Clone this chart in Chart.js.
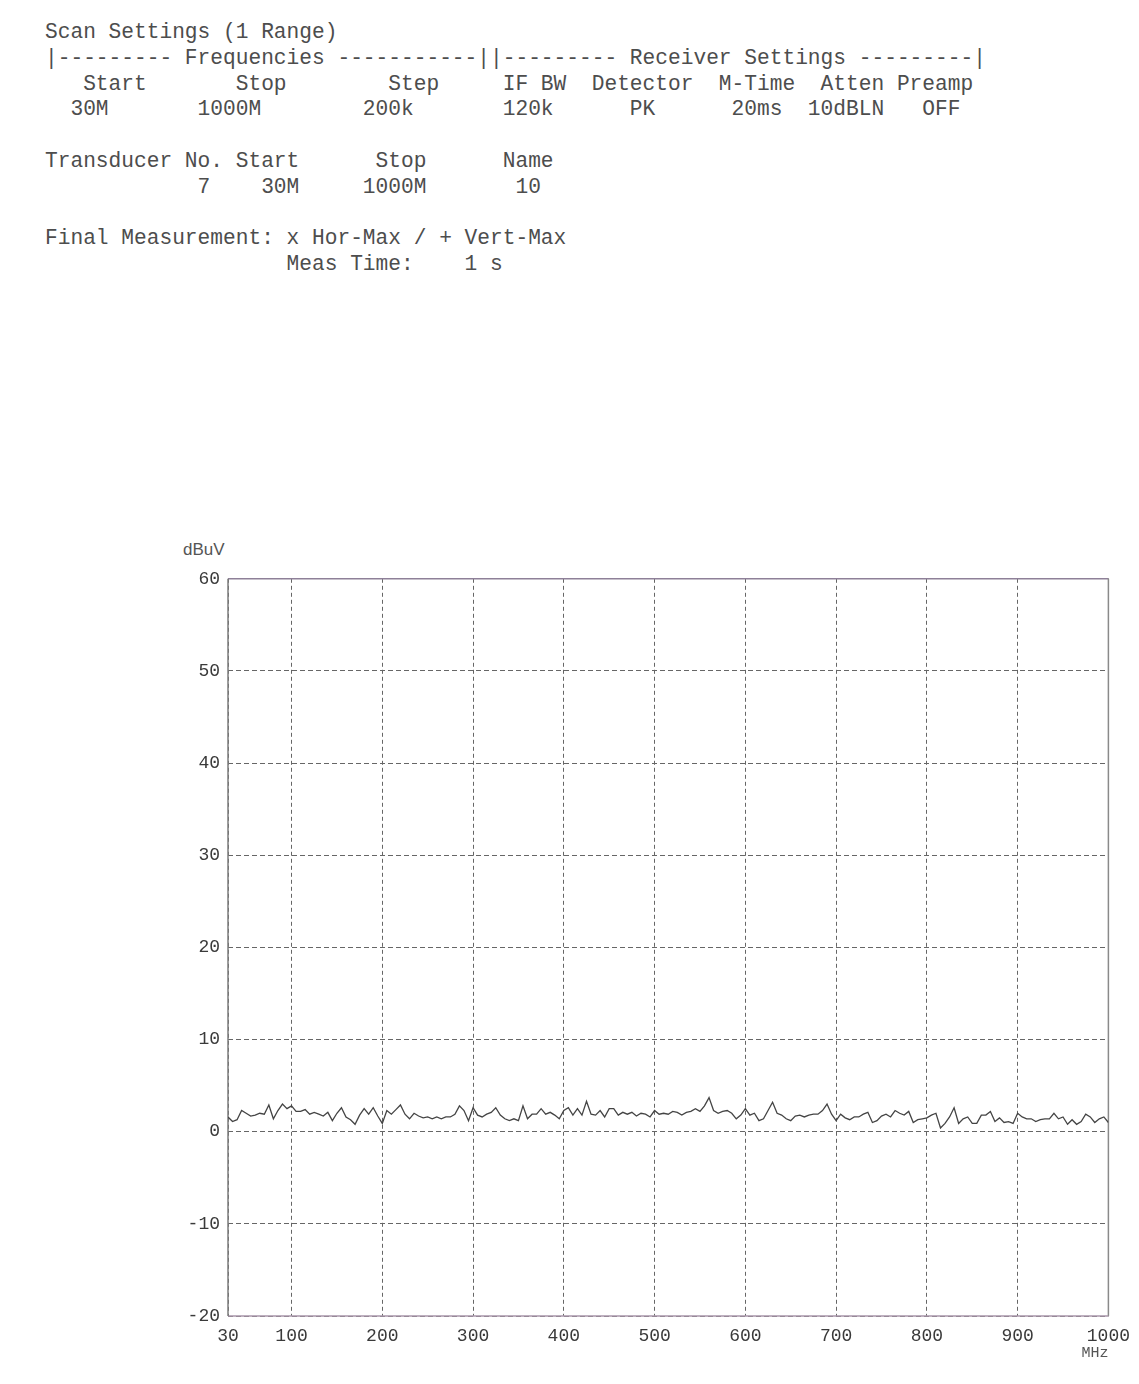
<!DOCTYPE html>
<html>
<head>
<meta charset="utf-8">
<title>Scan 30M - 1000M</title>
<script src="https://cdn.jsdelivr.net/npm/chart.js@4.4.1/dist/chart.umd.min.js"></script>
<style>
  html, body { margin: 0; padding: 0; background: #fff; }
  body { width: 1139px; height: 1384px; position: relative; overflow: hidden; }
  #header {
    position: absolute; left: 45px; top: 20px; margin: 0;
    font-family: "Liberation Mono", monospace; font-size: 21.2px; line-height: 25.75px;
    color: #4d4d4d;
  }
  #unit {
    position: absolute; left: 183px; top: 540px;
    font-family: "Liberation Sans", sans-serif; font-size: 17px; color: #555;
  }
  #chart-box { position: absolute; left: 0; top: 560px; width: 1139px; height: 820px; }
</style>
</head>
<body>
<pre id="header">Scan Settings (1 Range)
|--------- Frequencies -----------||--------- Receiver Settings ---------|
   Start       Stop        Step     IF BW  Detector  M-Time  Atten Preamp
  30M       1000M        200k       120k      PK      20ms  10dBLN   OFF

Transducer No. Start      Stop      Name
            7    30M     1000M       10

Final Measurement: x Hor-Max / + Vert-Max
                   Meas Time:    1 s</pre>
<div id="unit">dBuV</div>
<div id="chart-box"><canvas id="scan-chart"></canvas></div>

<script>
const freqMHz = [
  30, 35, 40, 45, 50, 55, 60, 65, 70, 75,
  80, 85, 90, 95, 100, 105, 110, 115, 120, 125,
  130, 135, 140, 145, 150, 155, 160, 165, 170, 175,
  180, 185, 190, 195, 200, 205, 210, 215, 220, 225,
  230, 235, 240, 245, 250, 255, 260, 265, 270, 275,
  280, 285, 290, 295, 300, 305, 310, 315, 320, 325,
  330, 335, 340, 345, 350, 355, 360, 365, 370, 375,
  380, 385, 390, 395, 400, 405, 410, 415, 420, 425,
  430, 435, 440, 445, 450, 455, 460, 465, 470, 475,
  480, 485, 490, 495, 500, 505, 510, 515, 520, 525,
  530, 535, 540, 545, 550, 555, 560, 565, 570, 575,
  580, 585, 590, 595, 600, 605, 610, 615, 620, 625,
  630, 635, 640, 645, 650, 655, 660, 665, 670, 675,
  680, 685, 690, 695, 700, 705, 710, 715, 720, 725,
  730, 735, 740, 745, 750, 755, 760, 765, 770, 775,
  780, 785, 790, 795, 800, 805, 810, 815, 820, 825,
  830, 835, 840, 845, 850, 855, 860, 865, 870, 875,
  880, 885, 890, 895, 900, 905, 910, 915, 920, 925,
  930, 935, 940, 945, 950, 955, 960, 965, 970, 975,
  980, 985, 990, 995, 1000
];
const levelDbuV = [
  1.6, 1.1, 1.3, 2.3, 2.0, 1.7, 1.8, 2.0, 1.9, 2.9,
  1.4, 2.3, 3.0, 2.5, 2.8, 2.2, 2.2, 2.4, 1.9, 2.1,
  1.9, 1.7, 2.1, 1.2, 2.0, 2.6, 1.6, 1.3, 0.8, 1.8,
  2.5, 1.9, 2.6, 1.7, 0.9, 2.3, 1.9, 2.4, 2.9, 1.9,
  1.4, 2.0, 1.7, 1.5, 1.6, 1.4, 1.6, 1.4, 1.6, 1.6,
  1.9, 2.8, 2.3, 1.2, 2.6, 1.8, 1.6, 1.9, 2.1, 2.6,
  1.8, 1.4, 1.2, 1.4, 1.2, 2.8, 1.4, 1.9, 1.9, 2.5,
  1.9, 2.1, 1.8, 1.4, 2.3, 2.6, 1.8, 2.5, 1.8, 3.3,
  1.9, 1.8, 2.3, 1.6, 2.5, 2.5, 1.8, 2.1, 1.9, 2.1,
  1.7, 2.0, 1.9, 1.6, 2.3, 1.9, 2.0, 1.9, 2.2, 2.1,
  1.8, 2.1, 2.2, 2.5, 2.2, 2.8, 3.7, 2.3, 2.0, 2.2,
  2.3, 2.0, 1.4, 1.8, 2.5, 1.8, 2.0, 1.2, 1.4, 2.3,
  3.2, 2.0, 1.8, 1.4, 1.2, 1.7, 1.8, 1.6, 1.8, 1.9,
  1.9, 2.3, 3.0, 1.9, 1.2, 1.9, 1.5, 1.3, 1.6, 1.6,
  1.9, 2.1, 1.0, 1.2, 1.7, 1.9, 1.6, 2.3, 2.0, 1.8,
  2.2, 1.0, 1.3, 1.4, 1.5, 1.8, 2.0, 0.4, 0.9, 1.6,
  2.6, 0.9, 1.4, 1.6, 0.9, 0.9, 1.8, 1.8, 2.2, 1.1,
  1.5, 1.0, 1.1, 0.9, 2.0, 1.6, 1.4, 1.4, 1.1, 1.3,
  1.4, 1.4, 2.0, 1.4, 1.6, 0.8, 1.3, 0.8, 1.1, 1.9,
  1.6, 1.0, 1.4, 1.6, 1.0
];
const xTickValues = [30, 100, 200, 300, 400, 500, 600, 700, 800, 900, 1000];
const yTickValues = [-20, -10, 0, 10, 20, 30, 40, 50, 60];

const tickFont = { family: 'Liberation Mono', size: 18 };
const gridColor = '#666';

// plot frame: printer draws a solid box round the graticule
const framePlugin = {
  id: 'frame',
  beforeDatasetsDraw(chart) {
    const { ctx, chartArea: a } = chart;
    const side = (x1, y1, x2, y2, c) => {
      ctx.strokeStyle = c;
      ctx.beginPath();
      ctx.moveTo(x1, y1);
      ctx.lineTo(x2, y2);
      ctx.stroke();
    };
    ctx.save();
    ctx.lineWidth = 1.5;
    side(a.left, a.top, a.right, a.top, '#8e8098');
    side(a.right, a.top, a.right, a.bottom, '#8a8a8a');
    side(a.left, a.bottom, a.right, a.bottom, '#a896aa');
    side(a.left, a.top, a.left, a.bottom, '#7d7d7d');
    ctx.restore();
  }
};

new Chart(document.getElementById('scan-chart'), {
  type: 'line',
  data: {
    datasets: [{
      data: freqMHz.map((f, i) => ({ x: f, y: levelDbuV[i] })),
      borderColor: '#444',
      borderWidth: 1.3,
      pointRadius: 0,
      tension: 0,
      fill: false
    }]
  },
  options: {
    responsive: true,
    maintainAspectRatio: false,
    animation: false,
    layout: { padding: { left: 0, right: 25, top: 17, bottom: 14 } },
    plugins: {
      legend: { display: false },
      tooltip: { enabled: false }
    },
    scales: {
      x: {
        type: 'linear',
        min: 30,
        max: 1000,
        afterBuildTicks: s => { s.ticks = xTickValues.map(v => ({ value: v })); },
        afterFit: s => { s.height = 50; },
        grid: { color: gridColor, lineWidth: 1, drawTicks: false },
        border: { display: false, dash: [4, 3] },
        ticks: {
          padding: 9, color: '#3a3a3a', font: tickFont, maxRotation: 0, autoSkip: false,
          callback: v => String(v)
        },
        title: {
          display: true, text: 'MHz', align: 'end', color: '#555',
          font: { family: 'Liberation Mono', size: 15 }, padding: { top: 0, bottom: 4 }
        }
      },
      y: {
        min: -20,
        max: 60,
        afterBuildTicks: s => { s.ticks = yTickValues.map(v => ({ value: v })); },
        afterFit: s => { s.width = 228; },
        grid: { color: gridColor, lineWidth: 1, drawTicks: false },
        border: { display: false, dash: [5, 3] },
        ticks: { padding: 8, color: '#3a3a3a', font: tickFont, callback: v => String(v) }
      }
    }
  },
  plugins: [framePlugin]
});
</script>
</body>
</html>
